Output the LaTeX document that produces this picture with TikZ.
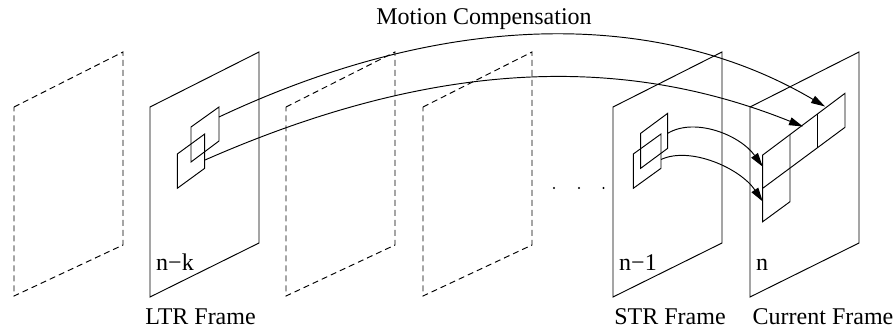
\documentclass[tikz,border=0pt]{standalone}
\usepackage{fontspec}
\setmainfont{Liberation Serif}
\usetikzlibrary{arrows.meta}
\begin{document}
\begin{tikzpicture}[x=1pt,y=-1pt, line width=0.95pt,
  sframe/.style={draw, line join=miter},
  dframe/.style={draw, dash pattern=on 6pt off 4pt},
  lbl/.style={font=\fontsize{24}{28}\selectfont, anchor=base, inner sep=0pt},
  mcarrow/.style={-{Triangle[length=14pt,width=8pt]}}]
\useasboundingbox (0,0) rectangle (893,329);

% dashed frames
\foreach \L in {14,286,423}
  \draw[dframe] (\L,107) -- (\L+109,52) -- (\L+109,245) -- (\L,296) -- cycle;

% solid frames
\foreach \L in {150,613,750}
  \draw[sframe] (\L,107) -- (\L+109,52) -- (\L+109,243) -- (\L,297) -- cycle;

% blocks in LTR frame
\draw (191,127) -- (219,107) -- (219,141) -- (191,162) -- cycle;
\draw (177.3,154) -- (204.7,134) -- (204.7,168.3) -- (177.3,188.3) -- cycle;

% blocks in STR frame
\draw (640.7,133.3) -- (667.7,113.3) -- (667.7,148.3) -- (640.7,168.3) -- cycle;
\draw (633.3,154) -- (661,134) -- (661,168.3) -- (633.3,188.3) -- cycle;

% blocks in current frame
\draw (762.7,155) -- (845,93.3) -- (845,127.3) -- (762.7,188.3) -- cycle;
\draw (762.7,188.3) -- (762.7,221.7) -- (790,201.7) -- (790,135);
\draw (817.3,114.3) -- (817.3,147.7);

% connector endpoints
\coordinate (ltrA) at (219,117);
\coordinate (ltrB) at (205,160);
\coordinate (strA) at (667.7,133.3);
\coordinate (strB) at (661,159.5);
\coordinate (curA) at (825,106.5);
\coordinate (curB) at (803,126.5);
\coordinate (curC) at (762.7,166.7);
\coordinate (curD) at (762.7,201.5);

% motion compensation arrows
\draw[mcarrow] (ltrA) .. controls (455,6) and (665,12) .. (curA);
\draw[mcarrow] (ltrB) .. controls (444,55) and (630,57) .. (curB);
\draw[mcarrow] (strA) .. controls (695,117) and (740,135) .. (curC);
\draw[mcarrow] (strB) .. controls (690,146) and (740,168) .. (curD);

% dots
\fill (554,188) circle (1.2pt);
\fill (579,188) circle (1.2pt);
\fill (603.5,188) circle (1.2pt);

% labels
\node[lbl] (mc) at (484,25) {Motion Compensation};
\node[lbl] (nk) at (175,270) {n−k};
\node[lbl] (n1) at (638,270) {n−1};
\node[lbl] (n0) at (762,270) {n};
\node[lbl] (ltr) at (200.5,324) {LTR Frame};
\node[lbl] (str) at (670,324) {STR Frame};
\node[lbl] (cur) at (823,324) {Current Frame};
\end{tikzpicture}
\end{document}
